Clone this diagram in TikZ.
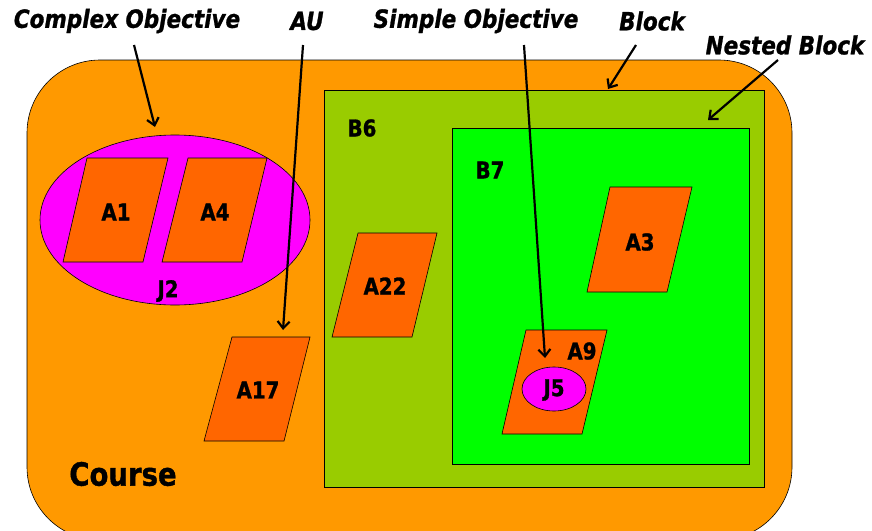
\documentclass[tikz,border=0pt]{standalone}
\usepackage{fontspec}
\setmainfont{DejaVu Sans}[BoldFeatures={FakeBold=1.2},BoldItalicFeatures={FakeBold=1.2}]
\usetikzlibrary{arrows.meta}
\definecolor{corange}{HTML}{FF9900}
\definecolor{cblock}{HTML}{99CC00}
\definecolor{cnest}{HTML}{00FF00}
\definecolor{cobj}{HTML}{FF00FF}
\definecolor{cau}{HTML}{FF6600}
\newcommand\sq[1]{\scalebox{0.86}[1]{#1}}
\begin{document}
\begin{tikzpicture}[x=1pt,y=-1pt,
  para/.style={fill=cau, draw=black, line width=0.6pt},
  box/.style={draw=black, line width=0.6pt},
  lab/.style={font=\bfseries\fontsize{23}{25}\selectfont, inner sep=0},
  callout/.style={font=\bfseries\itshape\fontsize{25}{27}\selectfont, inner sep=0},
  pointer/.style={line width=2.2pt, -{Straight Barb[length=7pt,width=12pt]}}]
\useasboundingbox (0,0) rectangle (872,530);
\clip (0,0) rectangle (872,530);
% Course
\draw[box, fill=corange, rounded corners=73pt] (27,60) rectangle (792,540);
% Blocks
\draw[box, fill=cblock] (324,90) rectangle (764,487);
\draw[box, fill=cnest] (452,128) rectangle (749,464);
% Complex objective J2
\draw[box, fill=cobj] (175,220) ellipse [x radius=135, y radius=85];
% AUs
\draw[para] (87,158) -- (168,158) -- (143,262) -- (63,262) -- cycle;
\draw[para] (188,158) -- (267,158) -- (242,262) -- (162,262) -- cycle;
\draw[para] (358,233) -- (437,233) -- (412,337) -- (332,337) -- cycle;
\draw[para] (232,337) -- (310,337) -- (284,441) -- (204,441) -- cycle;
\draw[para] (610,187) -- (692,187) -- (667,292) -- (587,292) -- cycle;
\draw[para] (526,330) -- (607,330) -- (582,434) -- (502,434) -- cycle;
% J5
\draw[box, fill=cobj] (554,389) ellipse [x radius=32, y radius=22];
% labels
\node[lab] (a1) at (116,212) {\sq{A1}};
\node[lab] (a4) at (215,212) {\sq{A4}};
\node[lab] (j2) at (168,291) {\sq{J2}};
\node[lab] (a22) at (385,286) {\sq{A22}};
\node[lab] (a17) at (258,390) {\sq{A17}};
\node[lab] (a3) at (640,242) {\sq{A3}};
\node[lab] (a9) at (582,351) {\sq{A9}};
\node[lab] (j5) at (554,390) {\sq{J5}};
\node[lab] (b6) at (362,128) {\sq{B6}};
\node[lab] (b7) at (490,170) {\sq{B7}};
\node[font=\bfseries\fontsize{32}{34}\selectfont, inner sep=0] (course) at (123,474) {\sq{Course}};
% callouts
\node[callout] (co) at (127,21) {\sq{Complex Objective}};
\node[callout] (au) at (307,21) {\sq{AU}};
\node[callout] (so) at (476,21) {\sq{Simple Objective}};
\node[callout] (bl) at (652,21) {\sq{Block}};
\node[callout] (nb) at (785,45) {\sq{Nested Block}};
\coordinate (co1) at (134,45); \coordinate (co2) at (155,127);
\coordinate (au1) at (303,45); \coordinate (au2) at (283,330);
\coordinate (so1) at (524,45); \coordinate (so2) at (545,358);
\coordinate (bl1) at (636,45); \coordinate (bl2) at (608,89);
\coordinate (nb1) at (778,60); \coordinate (nb2) at (708,120);
\draw[pointer] (co1) -- (co2);
\draw[pointer] (au1) -- (au2);
\draw[pointer] (so1) -- (so2);
\draw[pointer] (bl1) -- (bl2);
\draw[pointer] (nb1) -- (nb2);
\end{tikzpicture}
\end{document}
